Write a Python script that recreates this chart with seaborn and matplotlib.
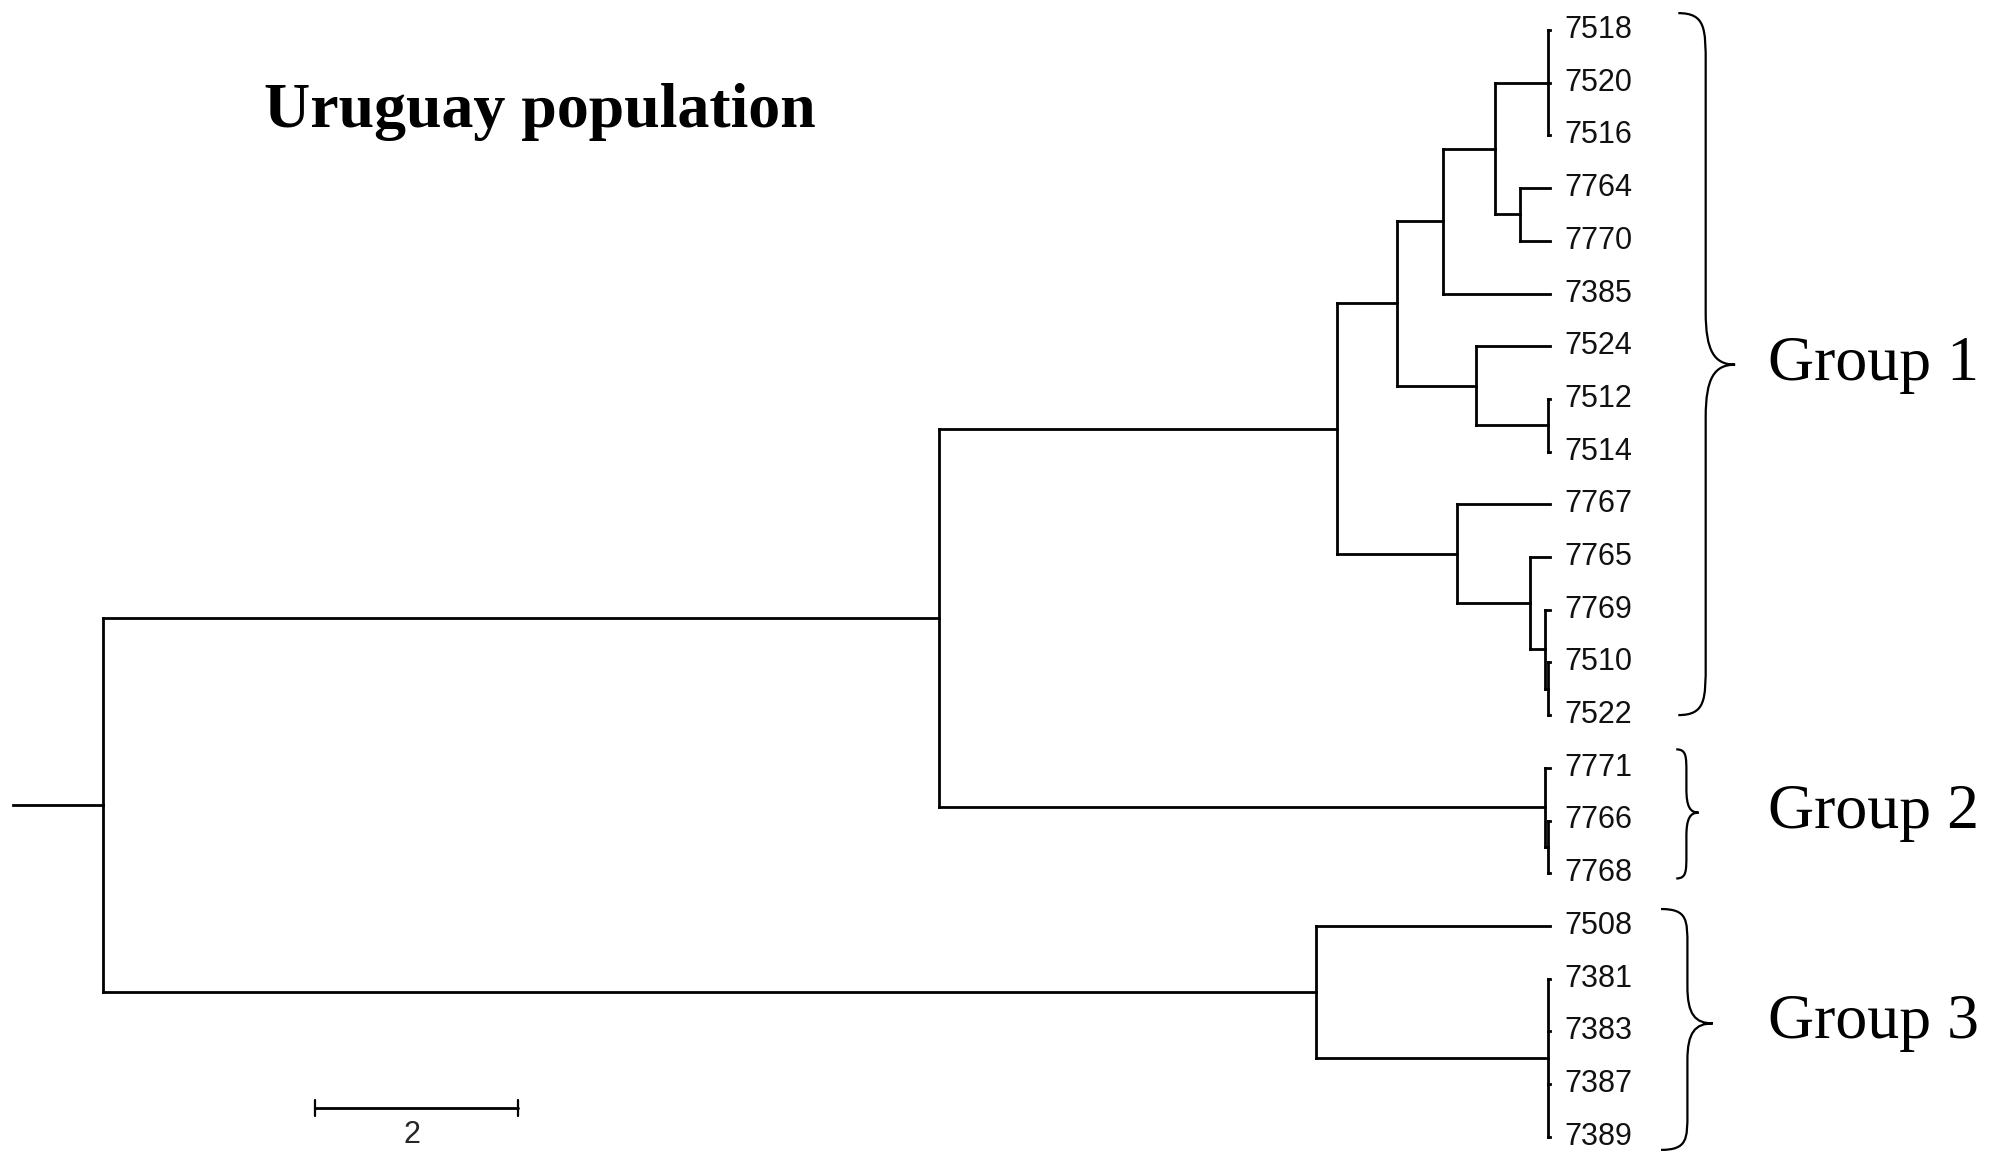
import numpy as np
import pandas as pd
import matplotlib
matplotlib.use("Agg")
import matplotlib.pyplot as plt
import seaborn as sns
from matplotlib.path import Path
from matplotlib.patches import PathPatch

# ---------------- data ----------------
leaf_labels = ["7518", "7520", "7516", "7764", "7770", "7385", "7524", "7512",
               "7514", "7767", "7765", "7769", "7510", "7522", "7771", "7766",
               "7768", "7508", "7381", "7383", "7387", "7389"]
leaf_depth = [14.26, 14.26, 14.26, 14.26, 14.26, 14.26, 14.26, 14.26,
              14.26, 14.26, 14.26, 14.26, 14.26, 14.26, 14.26, 14.26,
              14.26, 14.26, 14.26, 14.26, 14.26, 14.26]

node_names = ["A", "B", "AB", "ABC", "D1", "D", "ABCD", "F1", "F2", "F3", "F",
              "G1", "G2a", "G2", "G12", "G3a", "G3", "root"]
node_children = [
    ["7518", "7520", "7516"],
    ["7764", "7770"],
    ["A", "B"],
    ["AB", "7385"],
    ["7512", "7514"],
    ["7524", "D1"],
    ["ABC", "D"],
    ["7510", "7522"],
    ["7769", "F1"],
    ["7765", "F2"],
    ["7767", "F3"],
    ["ABCD", "F"],
    ["7766", "7768"],
    ["7771", "G2a"],
    ["G1", "G2"],
    ["7381", "7383", "7387", "7389"],
    ["7508", "G3a"],
    ["G12", "G3"],
]
node_depth = [14.24, 13.96, 13.71, 13.20, 14.24, 13.53, 12.75, 14.24, 14.21,
              14.06, 13.34, 12.16, 14.24, 14.21, 8.24, 14.24, 11.95, 0.0]
root_stem = -0.89

group_names = ["Group 1", "Group 2", "Group 3"]
group_first = ["7518", "7771", "7508"]
group_last = ["7522", "7768", "7389"]

scale_length = 2
scale_label = "2"
title_text = "Uruguay population"

# ---------------- tree layout ----------------
pos = {}
for lab, d in zip(leaf_labels, leaf_depth):
    pos[lab] = (d, float(leaf_labels.index(lab)))
for name, ch, d in zip(node_names, node_children, node_depth):
    ys = [pos[c][1] for c in ch]
    pos[name] = (d, (min(ys) + max(ys)) / 2.0)

rows = []
seg = 0
for name, ch, d in zip(node_names, node_children, node_depth):
    ys = [pos[c][1] for c in ch]
    rows += [(seg, d, min(ys)), (seg, d, max(ys))]
    seg += 1
    for c in ch:
        rows += [(seg, d, pos[c][1]), (seg, pos[c][0], pos[c][1])]
        seg += 1
ry = pos["root"][1]
rows += [(seg, root_stem, ry), (seg, 0.0, ry)]
seg += 1
seg_df = pd.DataFrame(rows, columns=["seg", "x", "y"])

# ---------------- figure ----------------
sns.set_style("white")
W, H = 2003, 1155
fig = plt.figure(figsize=(W / 100, H / 100), dpi=100)
ax = fig.add_axes([0, 0, 1, 1])

px_per_x = 101.5
x_origin = 103
px_per_y = 52.7
y_origin = 30
ax.set_xlim(-x_origin / px_per_x, (W - x_origin) / px_per_x)
ax.set_ylim((H - y_origin) / px_per_y, -y_origin / px_per_y)

sns.lineplot(data=seg_df, x="x", y="y", units="seg", estimator=None,
             sort=False, color="black", lw=2.0, ax=ax,
             solid_capstyle="projecting")

# leaf labels
for lab in leaf_labels:
    x, y = pos[lab]
    ax.text(x + 0.14, y, lab, ha="left", va="center",
            fontsize=22, family="Liberation Sans", color="#111111")

# braces + group labels
def brace(x0, xm, xt, ytop, ybot, ymid, r):
    verts = [(x0, ytop),
             (xm, ytop), (xm, ytop + 0.3 * r), (xm, ytop + r),
             (xm, ymid - r),
             (xm, ymid - 0.25 * r), (xm + 0.3 * (xt - xm), ymid), (xt, ymid),
             (xm + 0.3 * (xt - xm), ymid), (xm, ymid + 0.25 * r), (xm, ymid + r),
             (xm, ybot - r),
             (xm, ybot - 0.3 * r), (xm, ybot), (x0, ybot)]
    codes = [Path.MOVETO,
             Path.CURVE4, Path.CURVE4, Path.CURVE4,
             Path.LINETO,
             Path.CURVE4, Path.CURVE4, Path.CURVE4,
             Path.CURVE4, Path.CURVE4, Path.CURVE4,
             Path.LINETO,
             Path.CURVE4, Path.CURVE4, Path.CURVE4]
    ax.add_patch(PathPatch(Path(verts, codes), fill=False, lw=1.6,
                           edgecolor="black"))

brace_geom = [  # x0, xm, xt (data x), top pad, bottom pad, r
    (15.52, 15.79, 16.08, -0.32, 0.0, 1.0),
    (15.50, 15.60, 15.72, -0.35, 0.1, 0.45),
    (15.35, 15.61, 15.86, -0.32, 0.25, 0.7),
]
for gname, gf, gl, (x0, xm, xt, tp, bp, r) in zip(group_names, group_first,
                                                 group_last, brace_geom):
    yt = pos[gf][1] + tp
    yb = pos[gl][1] + bp
    ym = (pos[gf][1] + pos[gl][1]) / 2 - 0.15
    brace(x0, xm, xt, yt, yb, ym, r)
    ax.text(16.4, ym, gname, ha="left", va="center", fontsize=46,
            family="Liberation Serif", color="black")

# scale bar
sx0 = 2.09
sy = 20.455
ax.plot([sx0, sx0 + scale_length], [sy, sy], color="black", lw=2.0)
ax.plot([sx0, sx0], [sy - 0.15, sy + 0.15], color="black", lw=1.6)
ax.plot([sx0 + scale_length, sx0 + scale_length], [sy - 0.15, sy + 0.15],
        color="black", lw=1.6)
ax.text(sx0 + scale_length / 2 - 0.05, sy + 0.52, scale_label, ha="center",
        va="center", fontsize=22, family="Liberation Sans")

# title
ax.text(264 / W, 1 - 112 / H, title_text, transform=ax.transAxes,
        ha="left", va="center", fontsize=46, fontweight="bold",
        family="Liberation Serif", color="black")

ax.set_axis_off()
fig.savefig("out.png", dpi=100, facecolor="white")
